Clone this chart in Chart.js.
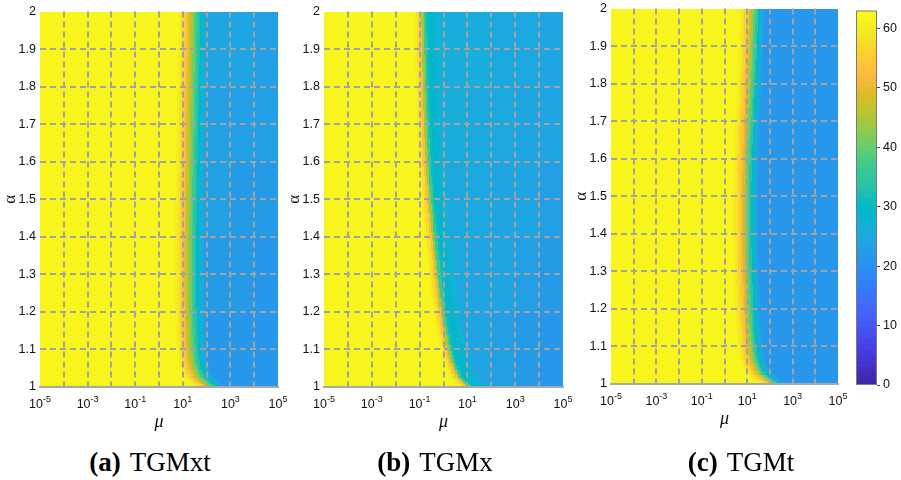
<!DOCTYPE html>
<html>
<head>
<meta charset="utf-8">
<script src="https://cdn.jsdelivr.net/npm/chart.js@4.4.1/dist/chart.umd.min.js"></script>
<style>
  body { margin: 0; background: #fff; width: 901px; height: 480px; position: relative; overflow: hidden; }
  canvas { position: absolute; }
  .cap { position: absolute; top: 449px; transform: translateX(-50%); white-space: nowrap;
         font-family: "Liberation Serif", "DejaVu Serif", serif; font-size: 27px; line-height: 27px; color: #000; }
  .cap span { margin-left: 9px; }
</style>
</head>
<body>
<canvas id="panelA" width="292" height="440" style="left:0;top:0"></canvas>
<canvas id="panelB" width="292" height="440" style="left:284px;top:0"></canvas>
<canvas id="panelC" width="280" height="440" style="left:571px;top:-3px"></canvas>
<canvas id="colourBar" width="55" height="440" style="left:846px;top:0"></canvas>
<div class="cap" style="left:150px"><b>(a)</b><span>TGMxt</span></div>
<div class="cap" style="left:435px"><b>(b)</b><span>TGMx</span></div>
<div class="cap" style="left:741px"><b>(c)</b><span>TGMt</span></div>
<script>
// alpha rows (cell centres), top to bottom
const ALPHA_ROWS = [2.0, 1.975, 1.95, 1.925, 1.9, 1.875, 1.85, 1.825, 1.8, 1.775, 1.75, 1.725, 1.7, 1.675, 1.65, 1.625,
                    1.6, 1.575, 1.55, 1.525, 1.5, 1.475, 1.45, 1.425, 1.4, 1.375, 1.35, 1.325, 1.3, 1.275, 1.25, 1.225,
                    1.2, 1.175, 1.15, 1.125, 1.1,
                    1.09, 1.08, 1.07, 1.06, 1.05, 1.04, 1.03, 1.02, 1.015, 1.01, 1.005, 1.0];

// log10(mu) where each row turns from yellow to blue (middle of the orange band)
const EDGE_A = [1.13, 1.125, 1.12, 1.115, 1.11, 1.105, 1.10, 1.09, 1.08, 1.07, 1.06, 1.055, 1.05, 1.04, 1.03, 1.025,
                1.02, 1.01, 1.00, 0.995, 0.99, 0.985, 0.98, 0.975, 0.97, 0.97, 0.97, 0.97, 0.97, 0.97, 0.97, 0.975,
                0.98, 0.99, 1.00, 1.02, 1.04,
                1.06, 1.08, 1.11, 1.14, 1.18, 1.25, 1.33, 1.45, 1.53, 1.62, 1.75, 1.95];
const EDGE_B = [-1.03, -1.025, -1.02, -1.01, -1.0, -0.99, -0.98, -0.97, -0.96, -0.95, -0.94, -0.925, -0.91, -0.895, -0.88, -0.86,
                -0.84, -0.815, -0.79, -0.76, -0.73, -0.695, -0.66, -0.62, -0.58, -0.54, -0.50, -0.46, -0.42, -0.375, -0.33, -0.275,
                -0.22, -0.16, -0.10, -0.02, 0.06,
                0.10, 0.14, 0.19, 0.24, 0.30, 0.37, 0.45, 0.55, 0.62, 0.70, 0.82, 1.00];
const EDGE_C = [0.98, 0.97, 0.96, 0.945, 0.93, 0.915, 0.90, 0.88, 0.86, 0.84, 0.82, 0.80, 0.78, 0.76, 0.74, 0.725,
                0.71, 0.70, 0.69, 0.685, 0.68, 0.68, 0.68, 0.68, 0.68, 0.685, 0.69, 0.70, 0.71, 0.725, 0.74, 0.755,
                0.77, 0.79, 0.81, 0.85, 0.89,
                0.91, 0.94, 0.98, 1.02, 1.08, 1.16, 1.27, 1.42, 1.52, 1.64, 1.80, 2.00];

// value across the transition, bins in decades relative to the edge
const PROFILE_OFFSETS = [-0.4, -0.3, -0.2, -0.1, 0, 0.1, 0.2, 0.3, 0.4, 0.5, 0.6, 0.7, 0.8, 0.9];
const PROFILE_A = [62, 61, 59, 56, 53, 49, 45, 41, 37, 33, 30, 27, 25];
const PROFILE_B = [62, 62, 61, 58, 53, 44, 36, 31, 29.5, 28.5, 28, 27.5, 27];
const PROFILE_C = [62, 61, 59, 56, 53, 49, 44, 39, 34, 30, 26, 23, 21.5];
const YELLOW_VALUE = 62;

// blue far field: alpha bands x log10(mu) bins
const FAR_ALPHA = [2.0, 1.8, 1.6, 1.4, 1.2, 1.0];
const FAR_LOGMU = [-5, -1, 0, 1, 2, 3, 4, 5];
const FAR_A = [[24.5, 24.5, 24.5, 24, 24, 24, 23.5],
               [24, 24, 24, 23.5, 23.5, 23.5, 23],
               [23.5, 23.5, 23.5, 23, 23, 22.5, 22.5],
               [22.5, 22.5, 22.5, 22.5, 22, 22, 21.5],
               [22, 22, 22, 22, 21.5, 21.5, 21]];
const FAR_B = [[27, 27, 26.5, 26, 25.5, 25, 24.5],
               [27, 26.5, 26, 25.5, 25, 24.5, 24],
               [26.5, 26, 25.5, 25, 24.5, 24, 23.5],
               [26, 25.5, 25, 24.5, 24, 23, 22.5],
               [25.5, 25, 24.5, 24, 23, 22, 21.5]];
const FAR_C = [[21, 21, 21, 21, 21, 21, 21],
               [21, 21, 21, 21, 21, 21, 21],
               [21, 21, 21, 21, 21, 21, 21],
               [21, 21, 21, 21, 21, 21, 21],
               [21, 21, 21, 21, 21, 21, 21]];

const X_LABEL_EXPONENTS = [-5, -3, -1, 1, 3, 5];
const C_MAX = 63;

// parula colormap (64 entries)
const PARULA = [
  [0.2422,0.1504,0.6603],[0.2504,0.1650,0.7076],[0.2578,0.1818,0.7511],[0.2647,0.1978,0.7952],
  [0.2706,0.2147,0.8364],[0.2751,0.2342,0.8710],[0.2783,0.2559,0.8991],[0.2803,0.2782,0.9221],
  [0.2813,0.3006,0.9414],[0.2810,0.3228,0.9579],[0.2795,0.3447,0.9717],[0.2760,0.3667,0.9829],
  [0.2699,0.3892,0.9906],[0.2602,0.4123,0.9952],[0.2440,0.4358,0.9988],[0.2206,0.4603,0.9973],
  [0.1963,0.4847,0.9892],[0.1834,0.5074,0.9798],[0.1786,0.5289,0.9682],[0.1764,0.5499,0.9520],
  [0.1687,0.5703,0.9359],[0.1540,0.5902,0.9218],[0.1460,0.6091,0.9079],[0.1380,0.6276,0.8973],
  [0.1248,0.6459,0.8883],[0.1113,0.6635,0.8763],[0.0952,0.6798,0.8598],[0.0689,0.6948,0.8394],
  [0.0297,0.7082,0.8163],[0.0036,0.7203,0.7917],[0.0067,0.7312,0.7660],[0.0433,0.7411,0.7394],
  [0.0964,0.7500,0.7120],[0.1408,0.7584,0.6842],[0.1717,0.7670,0.6554],[0.1938,0.7758,0.6251],
  [0.2161,0.7843,0.5923],[0.2470,0.7918,0.5567],[0.2906,0.7973,0.5188],[0.3406,0.8008,0.4789],
  [0.3909,0.8029,0.4354],[0.4456,0.8024,0.3909],[0.5044,0.7993,0.3480],[0.5616,0.7942,0.3045],
  [0.6174,0.7876,0.2612],[0.6720,0.7793,0.2227],[0.7242,0.7698,0.1910],[0.7738,0.7598,0.1646],
  [0.8203,0.7498,0.1535],[0.8634,0.7406,0.1596],[0.9035,0.7330,0.1774],[0.9393,0.7288,0.2100],
  [0.9728,0.7298,0.2394],[0.9956,0.7434,0.2371],[0.9970,0.7659,0.2199],[0.9952,0.7893,0.2028],
  [0.9892,0.8136,0.1885],[0.9786,0.8386,0.1766],[0.9676,0.8639,0.1643],[0.9610,0.8890,0.1537],
  [0.9597,0.9135,0.1423],[0.9628,0.9373,0.1265],[0.9691,0.9606,0.1064],[0.9769,0.9839,0.0805]
];

const SANS = '"Liberation Sans", Arial, Helvetica, sans-serif';
const SERIF = '"Liberation Serif", "DejaVu Serif", serif';
const GRID_COLOUR = '#a2a2a2';
const TEXT_COLOUR = '#111';

function colourFor(v) {
  const i = Math.min(PARULA.length - 1, Math.max(0, Math.floor(v / C_MAX * PARULA.length)));
  const c = PARULA[i];
  return 'rgb(' + Math.round(c[0] * 255) + ',' + Math.round(c[1] * 255) + ',' + Math.round(c[2] * 255) + ')';
}

function cell(x0, x1, y0, y1, v) {
  return { x: (x0 + x1) / 2, y: (y0 + y1) / 2, x0: x0, x1: x1, y0: y0, y1: y1, v: v };
}

// far field first, then each row's yellow part and transition on top of it
function buildCells(edges, profile, far) {
  const cells = [];
  for (let r = 0; r < FAR_ALPHA.length - 1; r++) {
    for (let c = 0; c < FAR_LOGMU.length - 1; c++) {
      cells.push(cell(FAR_LOGMU[c], FAR_LOGMU[c + 1], FAR_ALPHA[r + 1], FAR_ALPHA[r], far[r][c]));
    }
  }
  const n = ALPHA_ROWS.length;
  for (let i = 0; i < n; i++) {
    const top = i === 0 ? ALPHA_ROWS[0] : (ALPHA_ROWS[i - 1] + ALPHA_ROWS[i]) / 2;
    const bottom = i === n - 1 ? ALPHA_ROWS[n - 1] : (ALPHA_ROWS[i] + ALPHA_ROWS[i + 1]) / 2;
    const e = edges[i];
    cells.push(cell(-5, e + PROFILE_OFFSETS[0], bottom, top, YELLOW_VALUE));
    for (let k = 0; k < profile.length; k++) {
      cells.push(cell(e + PROFILE_OFFSETS[k], e + PROFILE_OFFSETS[k + 1], bottom, top, profile[k]));
    }
  }
  return cells;
}

const heatmap = {
  id: 'heatmap',
  beforeDatasetsDraw(chart) {
    const { ctx, chartArea: a, scales: { x, y } } = chart;
    ctx.save();
    ctx.beginPath();
    ctx.rect(a.left, a.top, a.width, a.height);
    ctx.clip();
    chart.data.datasets[0].data.forEach(c => {
      const l = Math.round(x.getPixelForValue(c.x0));
      const r = Math.round(x.getPixelForValue(c.x1));
      const t = Math.round(y.getPixelForValue(c.y1));
      const b = Math.round(y.getPixelForValue(c.y0));
      ctx.fillStyle = colourFor(c.v);
      ctx.fillRect(l, t, r - l, b - t);
    });
    ctx.restore();
  }
};

// 10^k tick labels with a raised exponent
const powerLabels = {
  id: 'powerLabels',
  afterDraw(chart) {
    const { ctx, chartArea: a, scales: { x } } = chart;
    ctx.save();
    ctx.fillStyle = TEXT_COLOUR;
    ctx.textBaseline = 'alphabetic';
    ctx.textAlign = 'left';
    X_LABEL_EXPONENTS.forEach(k => {
      const px = x.getPixelForValue(k);
      ctx.font = '12.5px ' + SANS;
      const wb = ctx.measureText('10').width;
      ctx.font = '9px ' + SANS;
      const ws = ctx.measureText(String(k)).width;
      const left = px - (wb + ws) / 2;
      ctx.font = '12.5px ' + SANS;
      ctx.fillText('10', left, a.bottom + 21);
      ctx.font = '9px ' + SANS;
      ctx.fillText(String(k), left + wb, a.bottom + 15);
    });
    ctx.restore();
  }
};

function makePanel(id, edges, profile, far, rightPad) {
  return new Chart(document.getElementById(id), {
    type: 'scatter',
    data: { datasets: [{ data: buildCells(edges, profile, far), pointRadius: 0, pointHoverRadius: 0 }] },
    options: {
      responsive: false,
      animation: false,
      devicePixelRatio: 1,
      events: [],
      layout: { padding: { top: 9, right: rightPad, bottom: 0, left: 0 } },
      plugins: { legend: { display: false }, tooltip: { enabled: false } },
      scales: {
        x: {
          type: 'linear', min: -5, max: 5,
          ticks: { stepSize: 1, display: false },
          grid: {
            z: 1,
            color: c => (c.tick && Math.abs(c.tick.value) === 5) ? 'rgba(0,0,0,0)' : GRID_COLOUR,
            lineWidth: 2, drawTicks: false
          },
          border: { display: true, z: 1, color: '#a8a8a8', width: 2, dash: [6, 4] },
          title: { display: true, text: 'μ', color: TEXT_COLOUR, font: { family: SERIF, size: 18, style: 'italic' }, padding: { top: 0, bottom: 7 } },
          afterFit: s => { s.height = 53; }
        },
        y: {
          type: 'linear', min: 1, max: 2,
          ticks: { stepSize: 0.1, padding: 4, color: TEXT_COLOUR, font: { family: SANS, size: 12.5 },
                   callback: v => String(Math.round(v * 10) / 10) },
          grid: {
            z: 1,
            color: c => (c.tick && (c.tick.value < 1.001 || c.tick.value > 1.999)) ? 'rgba(0,0,0,0)' : GRID_COLOUR,
            lineWidth: 2, drawTicks: false
          },
          border: { display: false, dash: [6, 4] },
          title: { display: true, text: 'α', color: TEXT_COLOUR, font: { family: SERIF, size: 17 }, padding: { top: 0, bottom: 0 } },
          afterFit: s => { s.width = 40; }
        }
      }
    },
    plugins: [heatmap, powerLabels]
  });
}

makePanel('panelA', EDGE_A, PROFILE_A, FAR_A, 14);
makePanel('panelB', EDGE_B, PROFILE_B, FAR_B, 13);
makePanel('panelC', EDGE_C, PROFILE_C, FAR_C, 13);

// colour bar
const barCells = PARULA.map((c, k) =>
  cell(0, 1, k * C_MAX / PARULA.length, (k + 1) * C_MAX / PARULA.length, (k + 0.5) * C_MAX / PARULA.length));

const frame = {
  id: 'frame',
  afterDraw(chart) {
    const { ctx, chartArea: a } = chart;
    ctx.save();
    ctx.strokeStyle = '#7a7a7a';
    ctx.lineWidth = 1;
    ctx.strokeRect(a.left + 0.5, a.top + 0.5, a.width - 1, a.height - 1);
    ctx.restore();
  }
};

new Chart(document.getElementById('colourBar'), {
  type: 'scatter',
  data: { datasets: [{ data: barCells, pointRadius: 0, pointHoverRadius: 0 }] },
  options: {
    responsive: false,
    animation: false,
    devicePixelRatio: 1,
    events: [],
    layout: { padding: { top: 10, right: 0, bottom: 55, left: 10 } },
    plugins: { legend: { display: false }, tooltip: { enabled: false } },
    scales: {
      x: { type: 'linear', min: 0, max: 1, display: false },
      y: {
        type: 'linear', position: 'right', min: 0, max: C_MAX,
        ticks: { stepSize: 10, includeBounds: false, padding: 3, color: TEXT_COLOUR, font: { family: SANS, size: 12.5 } },
        grid: { drawOnChartArea: false, drawTicks: true, tickLength: 3, tickColor: '#444', lineWidth: 1 },
        border: { display: false },
        afterFit: s => { s.width = 24; }
      }
    }
  },
  plugins: [heatmap, frame]
});
</script>
</body>
</html>
